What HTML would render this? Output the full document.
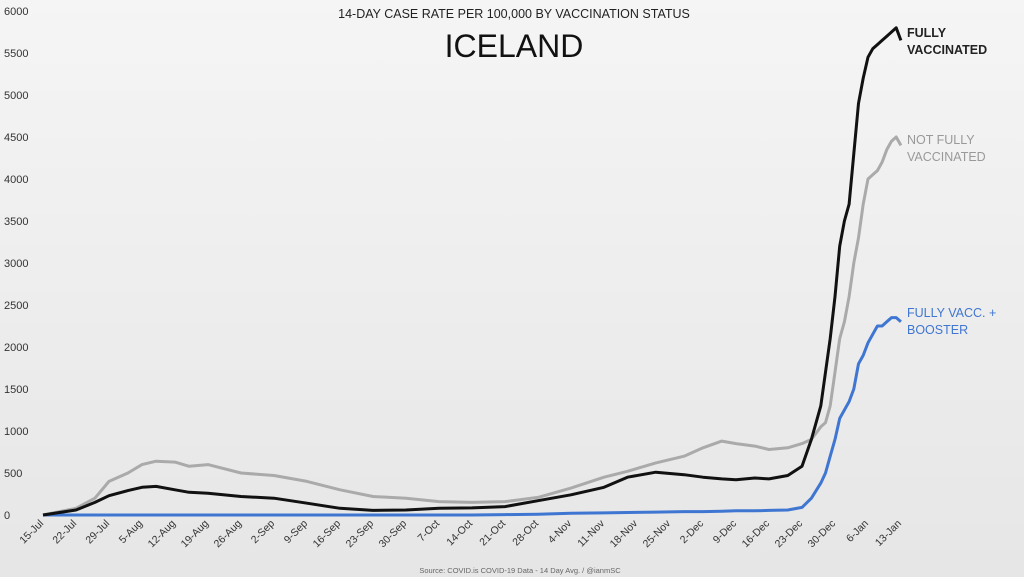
<!DOCTYPE html>
<html><head><meta charset="utf-8"><style>
body{margin:0;width:1024px;height:577px;overflow:hidden;background:linear-gradient(#f5f5f5,#e6e6e6);font-family:"Liberation Sans",sans-serif}
svg{display:block}
</style></head><body>
<svg id="chart" width="1024" height="577">
<text x="514" y="18" text-anchor="middle" font-size="12.5" fill="#222">14-DAY CASE RATE PER 100,000 BY VACCINATION STATUS</text>
<text x="514" y="57" text-anchor="middle" font-size="32" fill="#111">ICELAND</text>
<text x="520" y="573" text-anchor="middle" font-size="7.5" fill="#666">Source: COVID.is COVID-19 Data - 14 Day Avg. / @ianmSC</text>
<text x="907" y="37" font-size="12.5" font-weight="bold" fill="#222"><tspan x="907">FULLY</tspan><tspan x="907" dy="17">VACCINATED</tspan></text>
<text x="907" y="144" font-size="12.5" fill="#999"><tspan x="907">NOT FULLY</tspan><tspan x="907" dy="17">VACCINATED</tspan></text>
<text x="907" y="317" font-size="12.5" fill="#3f76d2"><tspan x="907">FULLY VACC. +</tspan><tspan x="907" dy="17">BOOSTER</tspan></text>
</svg>
<script>
const days=[0,7,11,14,18,21,24,28,31,35,42,49,56,63,70,77,84,91,98,105,112,119,124,130,136,140,144,147,151,154,158,161,163,165,166,167,168,169,170,171,172,173,174,175,176,177,178,179,180,181,182];
const fullyVacc=[0,60,150,230,290,330,340,300,270,260,220,200,140,80,55,60,80,85,100,170,240,330,450,510,480,450,430,420,440,430,470,580,900,1300,1700,2100,2600,3200,3500,3700,4300,4900,5200,5450,5550,5600,5650,5700,5750,5800,5650];
const notFully=[0,80,200,400,500,600,640,630,580,600,500,470,400,300,220,200,160,150,160,210,320,450,520,620,700,800,880,850,820,780,800,850,900,1050,1100,1300,1700,2100,2300,2600,3000,3300,3700,4000,4050,4100,4200,4350,4450,4500,4400];
const booster=[0,0,0,0,0,0,0,0,0,0,0,0,0,0,0,0,0,0,5,10,20,25,30,35,40,40,45,50,50,55,60,90,200,380,500,700,900,1150,1250,1350,1500,1800,1900,2050,2150,2250,2250,2300,2350,2350,2300];
const yTicks=[0,500,1000,1500,2000,2500,3000,3500,4000,4500,5000,5500,6000];
const xTickLabels=["15-Jul","22-Jul","29-Jul","5-Aug","12-Aug","19-Aug","26-Aug","2-Sep","9-Sep","16-Sep","23-Sep","30-Sep","7-Oct","14-Oct","21-Oct","28-Oct","4-Nov","11-Nov","18-Nov","25-Nov","2-Dec","9-Dec","16-Dec","23-Dec","30-Dec","6-Jan","13-Jan"];
const NS="http://www.w3.org/2000/svg",svg=document.getElementById('chart');
const xs=d=>43+d*4.714, ys=v=>515-v*504/6000;
yTicks.forEach(t=>{const e=document.createElementNS(NS,'text');
e.setAttribute('x',4);e.setAttribute('y',ys(t)+4);e.setAttribute('font-size','11');e.setAttribute('fill','#333');e.textContent=t;


svg.appendChild(e);});
xTickLabels.forEach((t,i)=>{const e=document.createElementNS(NS,'text');const x=xs(i*7)+1,y=524;
e.setAttribute('x',x);e.setAttribute('y',y);e.setAttribute('text-anchor','end');e.setAttribute('font-size','10.5');e.setAttribute('fill','#333');
e.setAttribute('transform','rotate(-45 '+x+' '+y+')');e.textContent=t;


svg.appendChild(e);});
function line(vals,col,w,name){const p=document.createElementNS(NS,'polyline');
p.setAttribute('points',days.map((d,i)=>xs(d).toFixed(1)+','+ys(vals[i]).toFixed(1)).join(' '));
p.setAttribute('fill','none');p.setAttribute('stroke',col);p.setAttribute('stroke-width',w);p.setAttribute('stroke-linejoin','round');


svg.appendChild(p);}
line(notFully,'#aaaaaa',3,'line-not-fully-vaccinated');
line(booster,'#3f76d2',3,'line-booster');
line(fullyVacc,'#111111',3,'line-fully-vaccinated');
</script>
</body></html>
